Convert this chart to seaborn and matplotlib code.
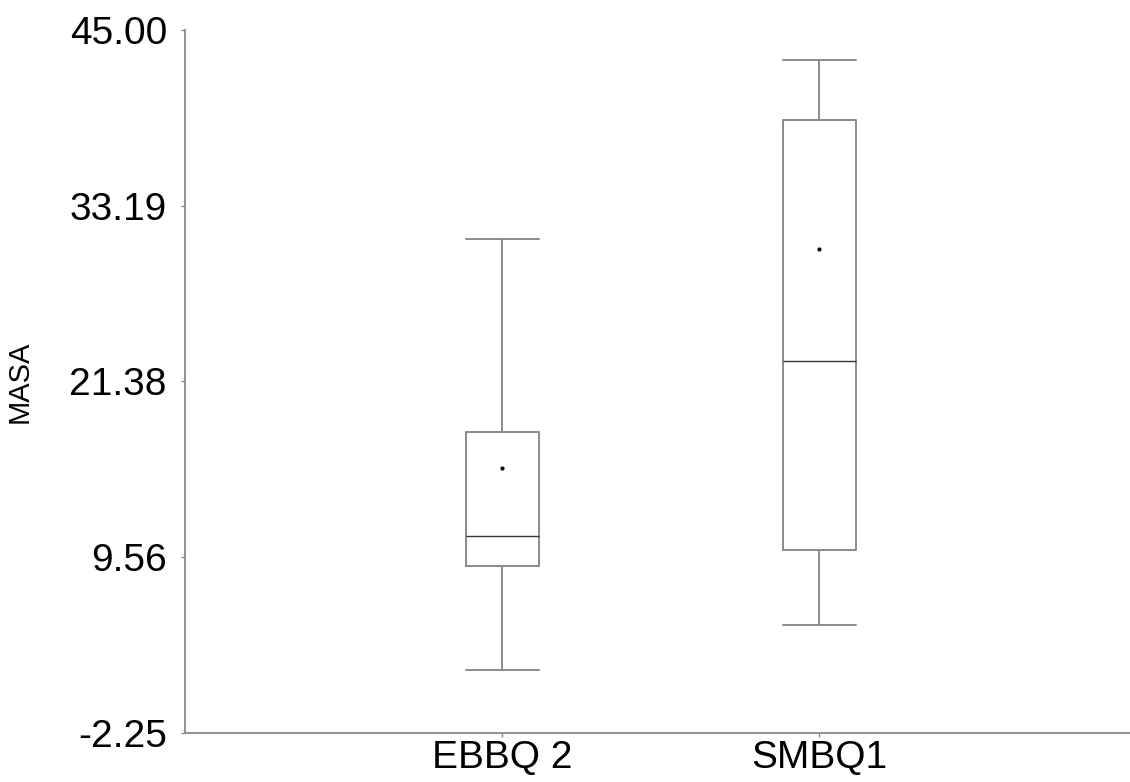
import matplotlib
matplotlib.use("Agg")
import matplotlib.pyplot as plt
import seaborn as sns
import pandas as pd

categories = ["EBBQ 2", "SMBQ1"]
mins = [1.98, 5.04]
q1s = [8.97, 10.05]
medians = [10.99, 22.76]
q3s = [17.98, 38.98]
maxs = [30.95, 42.99]
means = [15.58, 30.31]
yticks = [-2.25, 9.56, 21.38, 33.19, 45.00]

sns.set_theme(style="white")
plt.rcParams["font.family"] = ["Liberation Sans", "DejaVu Sans"]

rows = []
for c, a, b, m, d, e in zip(categories, mins, q1s, medians, q3s, maxs):
    for v in (a, b, m, d, e):
        rows.append({"group": c, "MASA": v})
df = pd.DataFrame(rows)

fig = plt.figure(figsize=(11.3, 7.82), dpi=100)
W, H = 1130, 782
ax = fig.add_axes([185 / W, 1 - 733 / H, (W - 185) / W, (733 - 30) / H])

gray = "#8a8a8a"
sns.boxplot(data=df, x="group", y="MASA", order=categories, ax=ax,
            whis=(0, 100), width=0.23, fill=False, color=gray,
            linewidth=1.4, showfliers=False, capwidths=0.23,
            medianprops={"color": "#333333", "linewidth": 1.0})
sns.stripplot(x=categories, y=means, order=categories, ax=ax, jitter=False,
              color="black", size=3, linewidth=0)

ax.set_xlim(-1, 1.98)
ax.set_ylim(-2.25, 45.0)
ax.set_yticks(yticks)
ax.set_yticklabels([f"{v:.2f}" for v in yticks])
ax.tick_params(axis="both", which="both", labelsize=28, length=3,
               width=1.0, color=gray, labelcolor="black", direction="out",
               left=True, bottom=True)
ax.tick_params(axis="y", pad=10)
ax.tick_params(axis="x", pad=2)
ax.set_xlabel("")
ax.set_ylabel("MASA", fontsize=21, color="black")
ax.yaxis.set_label_coords((34 - 185) / (W - 185), 0.5)

for s in ["top", "right"]:
    ax.spines[s].set_visible(False)
for s in ["left", "bottom"]:
    ax.spines[s].set_color(gray)
    ax.spines[s].set_linewidth(1.3)

fig.savefig("out.png", dpi=100)
